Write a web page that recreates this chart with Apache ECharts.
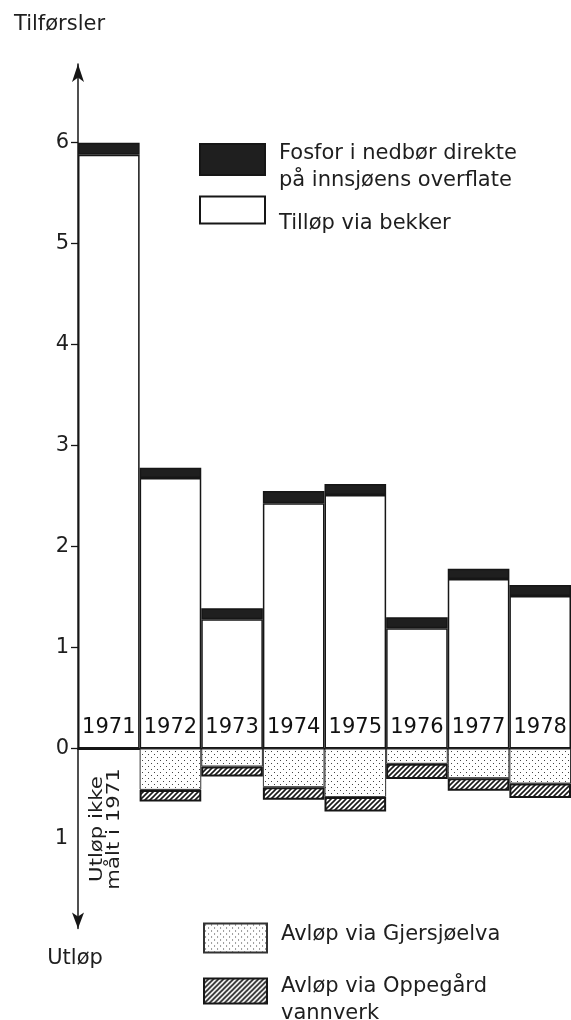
<!DOCTYPE html>
<html lang="no">
<head>
<meta charset="UTF-8">
<title>Fosfor tilførsler og utløp</title>
<script src="https://cdn.jsdelivr.net/npm/echarts@6/dist/echarts.min.js"></script>
<style>
  html, body { margin: 0; padding: 0; background: #fff; }
  #main { width: 571px; height: 1020px; }
</style>
</head>
<body>
<div id="main"></div>
<script>
// data (tonn fosfor)
var years = ['1971', '1972', '1973', '1974', '1975', '1976', '1977', '1978'];
var bekker = [5.88, 2.68, 1.28, 2.43, 2.51, 1.19, 1.68, 1.51];
var nedbor = [0.12, 0.10, 0.11, 0.12, 0.11, 0.11, 0.10, 0.11];
var gjersjoelva = [null, 0.46, 0.20, 0.43, 0.54, 0.17, 0.33, 0.39];
var oppegard = [null, 0.13, 0.11, 0.14, 0.16, 0.17, 0.14, 0.16];
var upperTicks = [0, 1, 2, 3, 4, 5, 6];
var lowerTicks = [1];

var FONT = 'DejaVu Sans';
var INK = '#161616';
var TXT = '#1e1e1e';

// fill patterns for the outflow bars
function dotPattern() {
  var c = document.createElement('canvas');
  c.width = 6; c.height = 6;
  var g = c.getContext('2d');
  g.fillStyle = '#fff';
  g.fillRect(0, 0, 6, 6);
  g.fillStyle = '#444';
  g.fillRect(1, 1, 1, 1);
  g.fillRect(4, 4, 1, 1);
  return c;
}
function hatchPattern() {
  var c = document.createElement('canvas');
  c.width = 5; c.height = 5;
  var g = c.getContext('2d');
  g.fillStyle = '#fff';
  g.fillRect(0, 0, 5, 5);
  g.strokeStyle = '#1a1a1a';
  g.lineWidth = 1.6;
  g.beginPath();
  g.moveTo(-1, 6); g.lineTo(6, -1);
  g.moveTo(-1, 1); g.lineTo(1, -1);
  g.moveTo(4, 6); g.lineTo(6, 4);
  g.stroke();
  return c;
}

var names = {
  fosfor: 'Fosfor i nedbør direkte på innsjøens overflate',
  bekker: 'Tilløp via bekker',
  gjersjo: 'Avløp via Gjersjøelva',
  oppegard: 'Avløp via Oppegård vannverk'
};

// rich styles used to place legend text relative to the swatch
var txt = { fontFamily: FONT, fontSize: 21, color: TXT };
function rs(extra) { return Object.assign({}, txt, extra); }
var legendRich = {
  a1: rs({ lineHeight: 42, padding: [0, 0, 0, 9] }),
  b1: rs({ lineHeight: 12, padding: [0, 0, 0, 9] }),
  a4: rs({ lineHeight: 46, padding: [0, 0, 0, 9] }),
  b4: rs({ lineHeight: 8, padding: [0, 0, 0, 9] }),
  dn: rs({ padding: [28, 0, 0, 9] }),
  up: rs({ padding: [0, 0, 7, 9] })
};
var legendText = {};
legendText[names.fosfor] = '{a1|Fosfor i nedbør direkte}\n{b1|på innsjøens overflate}';
legendText[names.bekker] = '{dn|Tilløp via bekker}';
legendText[names.gjersjo] = '{up|Avløp via Gjersjøelva}';
legendText[names.oppegard] = '{a4|Avløp via Oppegård}\n{b4|vannverk}';

function legendBox(name, left, top, w, h) {
  return {
    data: [name],
    left: left, top: top,
    orient: 'vertical',
    padding: 0,
    selectedMode: false,
    icon: 'rect',
    itemWidth: w, itemHeight: h,
    formatter: function (n) { return legendText[n]; },
    textStyle: { fontFamily: FONT, fontSize: 21, color: TXT, rich: legendRich }
  };
}

var chart = echarts.init(document.getElementById('main'));

var option = {
  backgroundColor: '#fff',
  animation: false,
  grid: [
    { left: 78, top: 64, width: 496, height: 684.5 },
    { left: 78, top: 748.5, width: 496, height: 180 }
  ],
  xAxis: [
    {
      gridIndex: 0, type: 'category', data: years,
      axisLine: { lineStyle: { color: INK, width: 2 } },
      axisTick: { show: false }, axisLabel: { show: false }, splitLine: { show: false }
    },
    {
      gridIndex: 1, type: 'category', data: years, show: false
    }
  ],
  yAxis: [
    {
      gridIndex: 0, type: 'value', min: 0, max: 6.78,
      name: 'Tilførsler', nameLocation: 'end', nameGap: 29,
      nameTextStyle: { fontFamily: FONT, fontSize: 21, color: TXT, padding: [0, 37, 0, 0] },
      axisLine: { show: true, lineStyle: { color: INK, width: 1.5 }, symbol: ['none', 'arrow'], symbolSize: [9, 18] },
      axisTick: { show: true, length: 7, customValues: upperTicks, lineStyle: { color: INK, width: 1.3 } },
      axisLabel: { customValues: upperTicks, margin: 9, fontFamily: FONT, fontSize: 21, color: TXT },
      splitLine: { show: false }
    },
    {
      gridIndex: 1, type: 'value', min: 0, max: 2, inverse: true,
      name: 'Utløp', nameLocation: 'end', nameGap: 20,
      nameTextStyle: { fontFamily: FONT, fontSize: 21, color: TXT, padding: [0, 6, 0, 0] },
      axisLine: { show: true, lineStyle: { color: INK, width: 1.5 }, symbol: ['arrow', 'none'], symbolSize: [9, 16] },
      axisTick: { show: false },
      axisLabel: { customValues: lowerTicks, margin: 10, fontFamily: FONT, fontSize: 21, color: TXT },
      splitLine: { show: false }
    }
  ],
  legend: [
    legendBox(names.fosfor, 199, 143, 65, 31),
    legendBox(names.bekker, 199, 195.5, 65, 27),
    legendBox(names.gjersjo, 203, 922.5, 63, 29),
    legendBox(names.oppegard, 203, 976.5, 63, 25)
  ],
  series: [
    {
      name: names.bekker, type: 'bar', stack: 'inn',
      xAxisIndex: 0, yAxisIndex: 0,
      barWidth: '100%',
      data: bekker,
      itemStyle: { color: '#fff', borderColor: INK, borderWidth: 1.5 },
      label: {
        show: true, position: 'insideBottom', distance: 10,
        formatter: '{b}', fontFamily: FONT, fontSize: 21, color: '#111'
      }
    },
    {
      name: names.fosfor, type: 'bar', stack: 'inn',
      xAxisIndex: 0, yAxisIndex: 0,
      barWidth: '100%',
      data: nedbor,
      itemStyle: { color: '#1f1f1f', borderColor: INK, borderWidth: 1.5 }
    },
    {
      name: names.gjersjo, type: 'bar', stack: 'ut',
      xAxisIndex: 1, yAxisIndex: 1,
      barWidth: '100%',
      data: gjersjoelva,
      itemStyle: { color: { image: dotPattern(), repeat: 'repeat' }, borderColor: '#333', borderWidth: 1 }
    },
    {
      name: names.oppegard, type: 'bar', stack: 'ut',
      xAxisIndex: 1, yAxisIndex: 1,
      barWidth: '100%',
      data: oppegard,
      itemStyle: { color: { image: hatchPattern(), repeat: 'repeat' }, borderColor: INK, borderWidth: 2 }
    }
  ],
  graphic: [
    {
      type: 'text', x: 106, y: 829, rotation: Math.PI / 2, scaleX: 1.18,
      style: {
        text: 'Utløp ikke\nmålt i 1971', fontFamily: FONT, fontSize: 18, lineHeight: 17,
        fill: TXT, align: 'center', verticalAlign: 'middle'
      }
    }
  ]
};

chart.setOption(option);
</script>
</body>
</html>
